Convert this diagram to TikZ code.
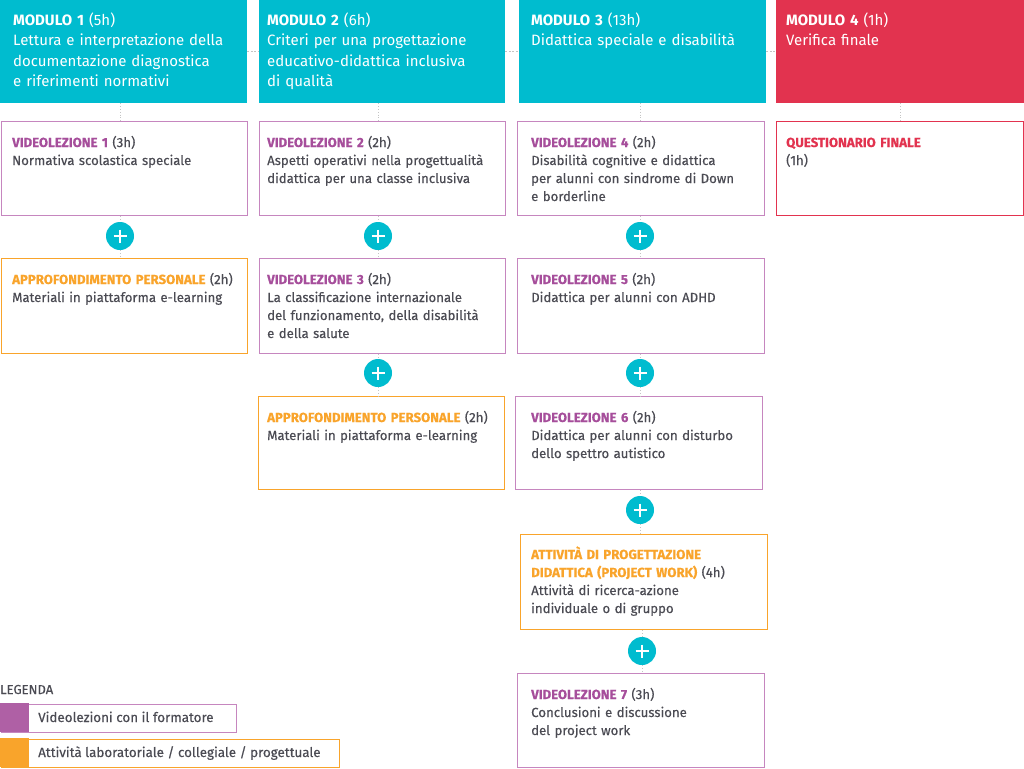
\documentclass[tikz,border=0pt]{standalone}
\usepackage{fontspec}
\setmainfont{Fira Sans}
\newfontfamily\bodyfont{Fira Sans}[FakeBold=0.35]
\definecolor{cyanM}{HTML}{00BCCF}
\definecolor{redM}{HTML}{E2334F}
\definecolor{purpT}{HTML}{A64E9B}
\definecolor{purpB}{HTML}{C686BF}
\definecolor{orangeM}{HTML}{F9A42B}
\definecolor{textC}{HTML}{4B4B53}
\definecolor{connC}{HTML}{C4C4C4}
\begin{document}
\begin{tikzpicture}[x=1pt,y=-1pt,
  hdr/.style={fill=#1, draw=none, anchor=north west, inner sep=0pt, minimum height=103pt},
  boxv/.style={draw=#1, line width=1.3pt, fill=white, anchor=north west, inner sep=0pt},
  htxt/.style={anchor=base west, align=left, inner sep=0pt, text width=235pt, text=white, font=\fontsize{15}{20.3}\selectfont},
  btxt/.style={anchor=base west, align=left, inner sep=0pt, text width=240pt, text=textC, font=\bodyfont\fontsize{13.2}{18}\selectfont},
  plus/.style={circle, fill=cyanM, minimum size=28pt, inner sep=0pt,
    path picture={\draw[white, line width=2.6pt] (path picture bounding box.center) +(-6.5,0) -- +(6.5,0) +(0,-6.5) -- +(0,6.5);}},
  conn/.style={draw=connC, line width=0.8pt, dotted},
  hconn/.style={draw=connC, line width=0.8pt, dash pattern=on 2pt off 1.5pt}
]
\useasboundingbox (0,0) rectangle (1024,768);
\fill[white] (0,0) rectangle (1024,768);
\newcommand\vtitle[2]{{\bfseries\color{#1}#2}}

% headers
\node[hdr=cyanM, minimum width=247pt] (h1) at (0,0) {};
\node[hdr=cyanM, minimum width=246pt] (h2) at (259,0) {};
\node[hdr=cyanM, minimum width=247pt] (h3) at (519,0) {};
\node[hdr=redM, minimum width=248pt] (h4) at (776,0) {};
\draw[hconn] (h1.east) -- (h2.west);
\draw[hconn] (h2.east) -- (h3.west);
\draw[hconn] (h3.east) -- (h4.west);
\node[htxt] (h1t) at (13,25.5) {\textbf{MODULO 1} (5h)\\Lettura e interpretazione della\\documentazione diagnostica\\e riferimenti normativi};
\node[htxt] (h2t) at (267,25.5) {\textbf{MODULO 2} (6h)\\Criteri per una progettazione\\educativo-didattica inclusiva\\di qualità};
\node[htxt] (h3t) at (531,25.5) {\textbf{MODULO 3} (13h)\\Didattica speciale e disabilità};
\node[htxt] (h4t) at (786,25.5) {\textbf{MODULO 4} (1h)\\Verifica finale};

% column 1
\node[boxv=purpB, minimum width=246pt, minimum height=94pt] (vl1) at (1,121) {};
\node[btxt] (vl1t) at (12,147) {\vtitle{purpT}{VIDEOLEZIONE 1} (3h)\\Normativa scolastica speciale};
\node[plus] (p1) at (120,236) {};
\node[boxv=orangeM, minimum width=246pt, minimum height=95pt] (ap1) at (1,258) {};
\node[btxt] (ap1t) at (12,284) {\vtitle{orangeM}{APPROFONDIMENTO PERSONALE} (2h)\\Materiali in piattaforma e-learning};

% column 2
\node[boxv=purpB, minimum width=246pt, minimum height=94pt] (vl2) at (259,121) {};
\node[btxt] (vl2t) at (267,147) {\vtitle{purpT}{VIDEOLEZIONE 2} (2h)\\Aspetti operativi nella progettualità\\didattica per una classe inclusiva};
\node[plus] (p2) at (378,236) {};
\node[boxv=purpB, minimum width=246pt, minimum height=95pt] (vl3) at (259,258) {};
\node[btxt] (vl3t) at (267,284) {\vtitle{purpT}{VIDEOLEZIONE 3} (2h)\\La classificazione internazionale\\del funzionamento, della disabilità\\e della salute};
\node[plus] (p3) at (378,373) {};
\node[boxv=orangeM, minimum width=246pt, minimum height=93pt] (ap2) at (258,396) {};
\node[btxt] (ap2t) at (267,422) {\vtitle{orangeM}{APPROFONDIMENTO PERSONALE} (2h)\\Materiali in piattaforma e-learning};

% column 3
\node[boxv=purpB, minimum width=247pt, minimum height=94pt] (vl4) at (517,121) {};
\node[btxt] (vl4t) at (531,147) {\vtitle{purpT}{VIDEOLEZIONE 4} (2h)\\Disabilità cognitive e didattica\\per alunni con sindrome di Down\\e borderline};
\node[plus] (p4) at (640,236) {};
\node[boxv=purpB, minimum width=247pt, minimum height=95pt] (vl5) at (517,258) {};
\node[btxt] (vl5t) at (531,284) {\vtitle{purpT}{VIDEOLEZIONE 5} (2h)\\Didattica per alunni con ADHD};
\node[plus] (p5) at (640,373) {};
\node[boxv=purpB, minimum width=247pt, minimum height=93pt] (vl6) at (515,396) {};
\node[btxt] (vl6t) at (531,422) {\vtitle{purpT}{VIDEOLEZIONE 6} (2h)\\Didattica per alunni con disturbo\\dello spettro autistico};
\node[plus] (p6) at (640,510) {};
\node[boxv=orangeM, minimum width=247pt, minimum height=95pt] (pw) at (520,534) {};
\node[btxt] (pwt) at (531,559) {\vtitle{orangeM}{ATTIVITÀ DI PROGETTAZIONE}\\\vtitle{orangeM}{DIDATTICA (PROJECT WORK)} (4h)\\Attività di ricerca-azione\\individuale o di gruppo};
\node[plus] (p7) at (642,651) {};
\node[boxv=purpB, minimum width=247pt, minimum height=94pt] (vl7) at (517,673) {};
\node[btxt] (vl7t) at (531,699) {\vtitle{purpT}{VIDEOLEZIONE 7} (3h)\\Conclusioni e discussione\\del project work};

% column 4
\node[boxv=redM, minimum width=247pt, minimum height=94pt] (q) at (776,121) {};
\node[btxt] (qt) at (786,147) {\vtitle{redM}{QUESTIONARIO FINALE}\\(1h)};

% connectors
\draw[conn] (p1 |- h1.south) -- (p1 |- vl1.north);
\draw[conn] (p1 |- vl1.south) -- (p1.north);
\draw[conn] (p1.south) -- (p1 |- ap1.north);
\draw[conn] (p2 |- h2.south) -- (p2 |- vl2.north);
\draw[conn] (p2 |- vl2.south) -- (p2.north);
\draw[conn] (p2.south) -- (p2 |- vl3.north);
\draw[conn] (p3 |- vl3.south) -- (p3.north);
\draw[conn] (p3.south) -- (p3 |- ap2.north);
\draw[conn] (p4 |- h3.south) -- (p4 |- vl4.north);
\draw[conn] (p4 |- vl4.south) -- (p4.north);
\draw[conn] (p4.south) -- (p4 |- vl5.north);
\draw[conn] (p5 |- vl5.south) -- (p5.north);
\draw[conn] (p5.south) -- (p5 |- vl6.north);
\draw[conn] (p6 |- vl6.south) -- (p6.north);
\draw[conn] (p6.south) -- (p6 |- pw.north);
\draw[conn] (p7 |- pw.south) -- (p7.north);
\draw[conn] (p7.south) -- (p7 |- vl7.north);
\draw[conn] (q.north) -- (q.north |- h4.south);

% legend
\node[anchor=base west, inner sep=0pt, text=textC, font=\bodyfont\fontsize{13}{14}\selectfont] (leg) at (0,694) {LEGENDA};
\node[boxv=purpB, line width=1.1pt, minimum width=235pt, minimum height=28pt] (l1) at (0.5,703.5) {};
\fill[purpT!90!white] (0,703) rectangle (29,732);
\node[anchor=base west, inner sep=0pt, text=textC, font=\bodyfont\fontsize{13.4}{16}\selectfont] (l1t) at (38,722) {Videolezioni con il formatore};
\node[boxv=orangeM, line width=1.1pt, minimum width=338pt, minimum height=28pt] (l2) at (0.5,738.5) {};
\fill[orangeM] (0,738) rectangle (29,767);
\node[anchor=base west, inner sep=0pt, text=textC, font=\bodyfont\fontsize{13.4}{16}\selectfont] (l2t) at (38,757) {Attività laboratoriale / collegiale / progettuale};
\end{tikzpicture}
\end{document}
